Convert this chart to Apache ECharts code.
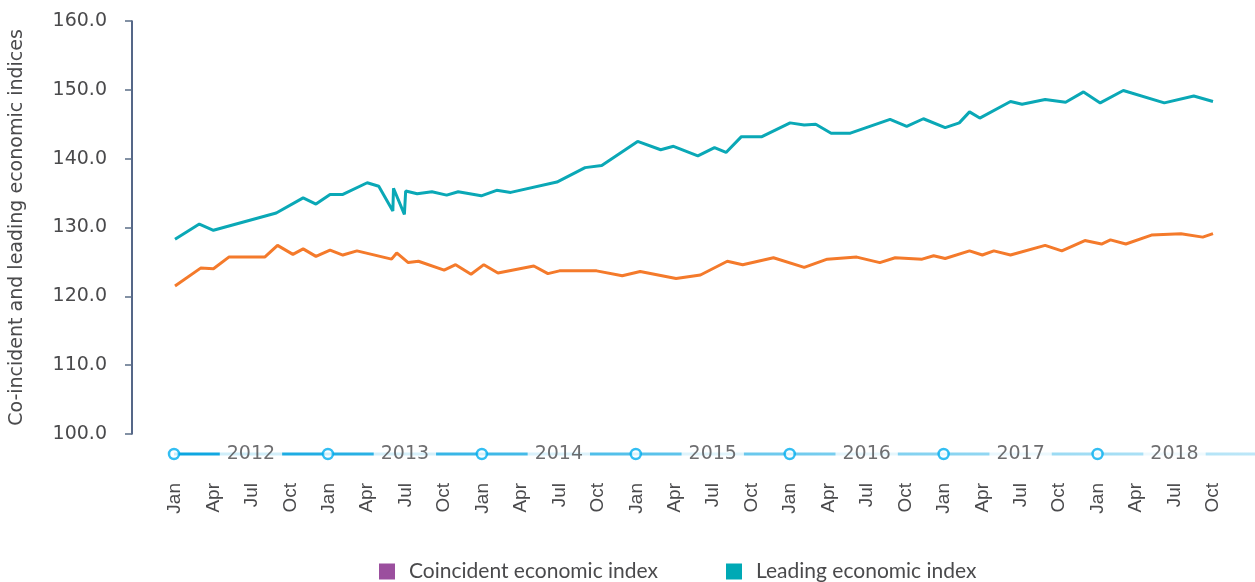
<!DOCTYPE html>
<html>
<head>
<meta charset="utf-8">
<script src="https://cdn.jsdelivr.net/npm/echarts@6/dist/echarts.min.js"></script>
<style>
html,body{margin:0;padding:0;background:#fff;}
#chart{width:1255px;height:582px;}
</style>
</head>
<body>
<div id="chart"></div>
<script>
// Month offsets since Jan 2012 (x) and index values (y)
const leadingMonths = [0, 1.9, 3.0, 7.9, 10.0, 11.0, 12.1, 13.1, 15.0, 15.9, 17.0, 17.05, 17.9, 18.0, 18.9, 20.05, 21.2, 22.1, 23.9, 25.1, 26.2, 29.8, 32.0, 33.3, 36.1, 37.9, 38.9, 40.8, 42.1, 43.0, 44.2, 45.8, 48.0, 49.1, 50.0, 51.2, 52.7, 55.8, 57.1, 58.4, 60.1, 61.2, 62.0, 62.8, 65.2, 66.1, 67.9, 69.5, 70.9, 72.2, 74.0, 77.2, 79.5, 81.0];
const leadingValues = [128.3, 130.5, 129.6, 132.1, 134.3, 133.4, 134.8, 134.8, 136.5, 136.0, 132.4, 135.7, 131.9, 135.3, 134.9, 135.2, 134.7, 135.2, 134.6, 135.4, 135.1, 136.6, 138.7, 139.0, 142.5, 141.3, 141.8, 140.4, 141.6, 140.9, 143.2, 143.2, 145.2, 144.9, 145.0, 143.7, 143.7, 145.7, 144.7, 145.8, 144.5, 145.2, 146.8, 145.9, 148.3, 147.9, 148.6, 148.2, 149.7, 148.1, 149.9, 148.1, 149.1, 148.3];

const coincidentMonths = [0, 2.0, 3.0, 4.2, 7.0, 8.0, 9.2, 10.0, 11.0, 12.1, 13.1, 14.2, 16.9, 17.3, 18.2, 19.0, 21.0, 21.9, 23.1, 24.1, 25.2, 28.0, 29.1, 30.0, 32.9, 34.9, 36.3, 39.1, 41.0, 43.1, 44.3, 46.7, 49.1, 50.9, 53.2, 55.0, 56.2, 58.3, 59.2, 60.1, 62.0, 63.0, 63.9, 65.2, 67.9, 69.2, 71.0, 72.3, 73.0, 74.2, 76.2, 78.5, 80.2, 81.0];
const coincidentValues = [121.5, 124.1, 124.0, 125.7, 125.7, 127.4, 126.1, 126.9, 125.8, 126.7, 126.0, 126.6, 125.4, 126.3, 124.9, 125.1, 123.8, 124.6, 123.2, 124.6, 123.4, 124.4, 123.3, 123.7, 123.7, 123.0, 123.6, 122.6, 123.1, 125.1, 124.6, 125.6, 124.2, 125.4, 125.7, 124.9, 125.6, 125.4, 125.9, 125.5, 126.6, 126.0, 126.6, 126.0, 127.4, 126.6, 128.1, 127.6, 128.2, 127.6, 128.9, 129.1, 128.6, 129.1];

const monthLabels = ['Jan', 'Apr', 'Jul', 'Oct'];
const years = ['2012', '2013', '2014', '2015', '2016', '2017', '2018'];
const seriesNames = ['Coincident economic index', 'Leading economic index'];
const lastMonth = 81;

const W = 1255;
const gridLeft = 174, gridRight = 42;
const plotW = W - gridLeft - gridRight;
const tlMax = lastMonth * (W - gridLeft) / plotW;

const textColor = '#4a4a4c';
const chart = echarts.init(document.getElementById('chart'), null, {renderer: 'canvas'});

chart.setOption({
  animation: false,
  backgroundColor: '#fff',
  legend: {
    data: seriesNames,
    left: 379, top: 561, padding: 0,
    icon: 'rect', itemWidth: 16, itemHeight: 16, itemGap: 68,
    textStyle: {fontFamily: 'Lato', fontSize: 21, color: textColor, padding: [0, 0, 0, 9]}
  },
  grid: [
    {left: gridLeft, right: gridRight, top: 21, bottom: 148},
    {left: gridLeft, right: 0, top: 444, height: 20}
  ],
  xAxis: [
    {
      type: 'value', gridIndex: 0, min: 0, max: lastMonth, interval: 3,
      axisLine: {show: false}, axisTick: {show: false}, splitLine: {show: false},
      axisLabel: {
        rotate: 90, margin: 49, fontFamily: 'Liberation Sans', fontSize: 19, color: textColor,
        formatter: v => monthLabels[Math.round(v / 3) % 4]
      }
    },
    {type: 'value', gridIndex: 1, min: 0, max: tlMax, show: false}
  ],
  yAxis: [
    {
      type: 'value', gridIndex: 0, min: 100, max: 160, interval: 10, offset: 43,
      name: 'Co-incident and leading economic indices', nameLocation: 'middle', nameGap: 105,
      nameTextStyle: {fontFamily: 'DejaVu Sans', fontSize: 19, color: textColor},
      axisLine: {show: true, onZero: false, lineStyle: {color: '#1d3461', width: 1.5}},
      axisTick: {show: true, length: 7, lineStyle: {color: '#5b6e87', width: 1.5}},
      splitLine: {show: false},
      axisLabel: {margin: 25, fontFamily: 'DejaVu Sans', fontSize: 19, color: textColor, formatter: v => v.toFixed(1)}
    },
    {type: 'value', gridIndex: 1, min: 0, max: 2, show: false}
  ],
  series: [
    {
      name: seriesNames[0], type: 'line', xAxisIndex: 0, yAxisIndex: 0,
      data: coincidentMonths.map((m, i) => [m, coincidentValues[i]]),
      showSymbol: false, symbol: 'none',
      itemStyle: {color: '#9b4f9e'},
      lineStyle: {color: '#f47a2b', width: 3}, z: 3
    },
    {
      name: seriesNames[1], type: 'line', xAxisIndex: 0, yAxisIndex: 0,
      data: leadingMonths.map((m, i) => [m, leadingValues[i]]),
      showSymbol: false, symbol: 'none',
      itemStyle: {color: '#00a9b5'},
      lineStyle: {color: '#0aa8b6', width: 3}, z: 3
    },
    {
      name: 'timeline', type: 'line', xAxisIndex: 1, yAxisIndex: 1,
      data: [[0, 1], [tlMax, 1]], symbol: 'none', silent: true,
      lineStyle: {width: 3, color: {type: 'linear', x: 0, y: 0, x2: 1, y2: 0,
        colorStops: [{offset: 0, color: '#0aa5e0'}, {offset: 1, color: '#bde7f8'}]}},
      z: 2
    },
    {
      name: 'yearLabels', type: 'scatter', xAxisIndex: 1, yAxisIndex: 1,
      data: years.map((y, i) => [i * 12 + 6, 1, y]), symbolSize: 1, silent: true,
      itemStyle: {color: 'rgba(0,0,0,0)'},
      label: {show: true, position: 'inside', formatter: p => p.data[2],
        backgroundColor: '#fff', padding: [3, 7], fontFamily: 'DejaVu Sans', fontSize: 19, color: textColor},
      z: 4
    },
    {
      name: 'yearStarts', type: 'scatter', xAxisIndex: 1, yAxisIndex: 1,
      data: years.map((y, i) => [i * 12, 1]), symbol: 'circle', symbolSize: 10, silent: true,
      itemStyle: {color: '#fff', borderColor: '#00aeef', borderWidth: 2.5},
      z: 5
    }
  ]
});
</script>
</body>
</html>
